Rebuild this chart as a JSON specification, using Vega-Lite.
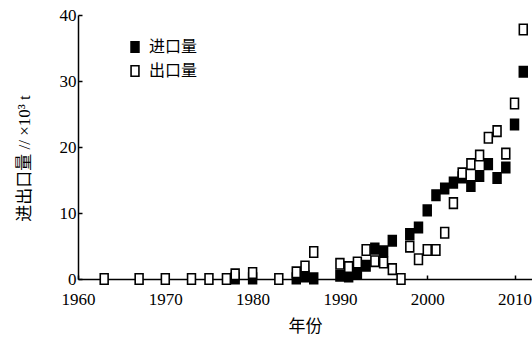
{
  "$schema": "https://vega.github.io/schema/vega-lite/v6.json",
  "autosize": {"type": "none"},
  "padding": {"left": 78, "top": 15, "right": 0, "bottom": 61},
  "width": 454,
  "height": 264,
  "background": "white",
  "config": {
    "view": {"stroke": null},
    "font": "Liberation Serif, Noto Sans CJK SC",
    "axis": {"grid": false, "domainColor": "black", "domainWidth": 1.5, "tickColor": "black", "tickWidth": 1.5, "labelColor": "black", "titleColor": "black", "labelFont": "Liberation Serif", "labelFontSize": 17, "titleFont": "Liberation Serif, Noto Sans CJK SC", "titleFontSize": 17, "titleFontWeight": "normal"}
  },
  "data": {
    "values": [
      {"year": 1978, "value": 0.1, "series": "进口量"},
      {"year": 1980, "value": 0.1, "series": "进口量"},
      {"year": 1985, "value": 0.1, "series": "进口量"},
      {"year": 1986, "value": 0.4, "series": "进口量"},
      {"year": 1987, "value": 0.1, "series": "进口量"},
      {"year": 1990, "value": 0.5, "series": "进口量"},
      {"year": 1991, "value": 0.4, "series": "进口量"},
      {"year": 1992, "value": 0.9, "series": "进口量"},
      {"year": 1993, "value": 2.0, "series": "进口量"},
      {"year": 1994, "value": 4.6, "series": "进口量"},
      {"year": 1995, "value": 4.2, "series": "进口量"},
      {"year": 1996, "value": 5.8, "series": "进口量"},
      {"year": 1998, "value": 6.8, "series": "进口量"},
      {"year": 1999, "value": 7.8, "series": "进口量"},
      {"year": 2000, "value": 10.4, "series": "进口量"},
      {"year": 2001, "value": 12.7, "series": "进口量"},
      {"year": 2002, "value": 13.7, "series": "进口量"},
      {"year": 2003, "value": 14.6, "series": "进口量"},
      {"year": 2004, "value": 15.4, "series": "进口量"},
      {"year": 2005, "value": 14.1, "series": "进口量"},
      {"year": 2006, "value": 15.6, "series": "进口量"},
      {"year": 2007, "value": 17.4, "series": "进口量"},
      {"year": 2008, "value": 15.3, "series": "进口量"},
      {"year": 2009, "value": 16.9, "series": "进口量"},
      {"year": 2010, "value": 23.4, "series": "进口量"},
      {"year": 2011, "value": 31.4, "series": "进口量"},
      {"year": 1963, "value": 0, "series": "出口量"},
      {"year": 1967, "value": 0, "series": "出口量"},
      {"year": 1970, "value": 0, "series": "出口量"},
      {"year": 1973, "value": 0, "series": "出口量"},
      {"year": 1975, "value": 0, "series": "出口量"},
      {"year": 1977, "value": 0, "series": "出口量"},
      {"year": 1978, "value": 0.7, "series": "出口量"},
      {"year": 1980, "value": 0.9, "series": "出口量"},
      {"year": 1983, "value": 0, "series": "出口量"},
      {"year": 1985, "value": 1.0, "series": "出口量"},
      {"year": 1986, "value": 1.9, "series": "出口量"},
      {"year": 1987, "value": 4.1, "series": "出口量"},
      {"year": 1990, "value": 2.3, "series": "出口量"},
      {"year": 1991, "value": 1.8, "series": "出口量"},
      {"year": 1992, "value": 2.5, "series": "出口量"},
      {"year": 1993, "value": 4.4, "series": "出口量"},
      {"year": 1994, "value": 2.7, "series": "出口量"},
      {"year": 1995, "value": 2.5, "series": "出口量"},
      {"year": 1996, "value": 1.5, "series": "出口量"},
      {"year": 1997, "value": 0, "series": "出口量"},
      {"year": 1998, "value": 4.9, "series": "出口量"},
      {"year": 1999, "value": 3.0, "series": "出口量"},
      {"year": 2000, "value": 4.4, "series": "出口量"},
      {"year": 2001, "value": 4.4, "series": "出口量"},
      {"year": 2002, "value": 7.0, "series": "出口量"},
      {"year": 2003, "value": 11.5, "series": "出口量"},
      {"year": 2004, "value": 16.0, "series": "出口量"},
      {"year": 2005, "value": 17.4, "series": "出口量"},
      {"year": 2006, "value": 18.7, "series": "出口量"},
      {"year": 2007, "value": 21.4, "series": "出口量"},
      {"year": 2008, "value": 22.4, "series": "出口量"},
      {"year": 2009, "value": 19.0, "series": "出口量"},
      {"year": 2010, "value": 26.6, "series": "出口量"},
      {"year": 2011, "value": 37.8, "series": "出口量"}
    ]
  },
  "mark": {"type": "point", "shape": "M-0.75,-1H0.75V1H-0.75Z", "size": 110, "filled": true, "stroke": "black", "strokeWidth": 1.6, "opacity": 1},
  "encoding": {
    "x": {"field": "year", "type": "quantitative", "scale": {"domain": [1960, 2012], "nice": false, "zero": false},
      "axis": {"title": "年份", "values": [1960, 1970, 1980, 1990, 2000, 2010], "format": "d", "tickSize": -4, "labelPadding": 16, "titlePadding": 11, "labelFlush": false}},
    "y": {"field": "value", "type": "quantitative", "scale": {"domain": [0, 40], "nice": false},
      "axis": {"title": "进出口量 // ×10³ t", "values": [0, 10, 20, 30, 40], "tickSize": -4, "labelPadding": 6, "titlePadding": 26, "titleY": 143, "labelFlush": false}},
    "fill": {"field": "series", "type": "nominal", "scale": {"domain": ["进口量", "出口量"], "range": ["black", "white"]},
      "legend": {"title": null, "orient": "none", "legendX": 49, "legendY": 24, "symbolType": "M-0.75,-1H0.75V1H-0.75Z", "symbolSize": 110, "symbolStrokeColor": "black", "symbolStrokeWidth": 1.6, "symbolOpacity": 1, "labelFont": "Noto Sans CJK SC", "labelFontSize": 16, "labelColor": "black", "labelOffset": 6, "rowPadding": 6}}
  }
}
